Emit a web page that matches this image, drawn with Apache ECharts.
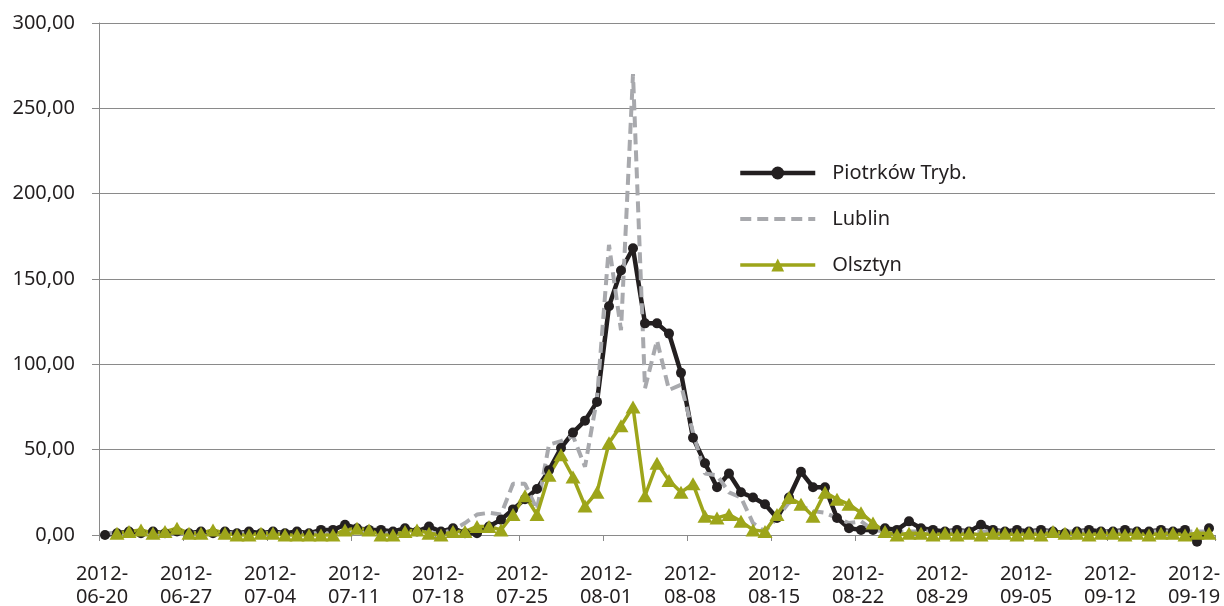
<!DOCTYPE html>
<html>
<head>
<meta charset="utf-8">
<script src="https://cdn.jsdelivr.net/npm/echarts@6/dist/echarts.min.js"></script>
<style>
  html, body { margin: 0; padding: 0; background: #fff; }
  #chart_pm_graph { width: 1224px; height: 606px; }
</style>
</head>
<body>
<div id="chart_pm_graph"></div>
<script>
// daily dates 2012-06-20 .. 2012-09-20
const startDay = "2012-06-20";
const dayCount = 93;
const dates = [];
for (let i = 0; i < dayCount; i++) {
  const d = new Date(startDay + "T00:00:00Z");
  d.setUTCDate(d.getUTCDate() + i);
  dates.push(d.toISOString().slice(0, 10));
}

const seriesNames = ["Piotrków Tryb.", "Lublin", "Olsztyn"];

const piotrkowValues = [
  0, 1, 2, 1, 2, 1, 2, 1, 2, 1,
  2, 1, 2, 1, 2, 1, 2, 1, 3, 3,
  6, 4, 3, 3, 2, 4, 2, 5, 2, 4,
  1, 1, 5, 9, 15, 21, 27, 38, 51, 60,
  67, 78, 134, 155, 168, 124, 124, 118, 95, 57,
  42, 28, 36, 25, 22, 18, 10, 22, 37, 28,
  28, 10, 4, 3, 3, 4, 3, 8, 4, 3,
  2, 3, 2, 6, 3, 2, 3, 2, 3, 2,
  1, 2, 3, 2, 2, 3, 2, 2, 3, 2,
  3, -4, 4
];
const lublinValues = [
  1, 1, 1, 1, 1, 1, 1, 1, 1, 1,
  1, 1, 1, 1, 1, 1, 1, 1, 1, 1,
  1, 1, 1, 1, 1, 1, 1, 1, 1, 3,
  7, 12, 13, 12, 30, 30, 15, 53, 55, 58,
  40, 80, 170, 120, 270, 86, 114, 85, 88, 60,
  36, 35, 25, 22, 7, 2, 10, 19, 17, 14,
  13, 10, 7, 8, 3, 2, 2, 2, 2, 2,
  2, 2, 2, 2, 2, 2, 2, 2, 2, 2,
  2, 2, 2, 2, 2, 2, 2, 2, 2, 2,
  2, 2, 2
];
const olsztynValues = [
  null, 1, 2, 3, 1, 2, 4, 1, 1, 3,
  1, 0, 0, 1, 1, 0, 0, 0, 0, 0,
  3, 4, 3, 0, 0, 2, 3, 1, 0, 2,
  2, 5, 5, 3, 12, 23, 12, 35, 47, 34,
  17, 25, 54, 64, 75, 23, 42, 32, 25, 30,
  11, 10, 12, 8, 3, 2, 12, 22, 18, 11,
  25, 21, 18, 13, 7, 2, 0, 1, 1, 0,
  1, 0, 1, 0, 1, 1, 0, 1, 0, 2,
  1, 1, 0, 1, 1, 0, 1, 0, 1, 1,
  0, 1, 1
];

const yTicks = { min: 0, max: 300, step: 50 };

const textColor = "#231f20";
const axisGray = "#8a8a8a";
const font = "Noto Sans";

const chart = echarts.init(document.getElementById("chart_pm_graph"));
const option = {
  backgroundColor: "#ffffff",
  animation: false,
  grid: { left: 99, right: 9, top: 23, bottom: 71, outerBoundsMode: "none", containLabel: false },
  legend: {
    orient: "vertical",
    left: 733,
    top: 158,
    itemWidth: 75,
    itemHeight: 16,
    itemGap: 26,
    textStyle: { fontFamily: font, fontSize: 20, color: textColor, padding: [0, 0, 0, 12] },
    data: [
      { name: seriesNames[0], lineStyle: { width: 4.5 } },
      { name: seriesNames[1], itemStyle: { opacity: 0 }, lineStyle: { width: 4 } },
      { name: seriesNames[2], lineStyle: { width: 3.5 } },
    ],
  },
  xAxis: {
    type: "category",
    data: dates,
    boundaryGap: true,
    axisLine: { lineStyle: { color: axisGray, width: 1 } },
    axisTick: { show: true, interval: 6, length: 6, lineStyle: { color: axisGray } },
    axisLabel: {
      interval: 6,
      margin: 28,
      fontFamily: font,
      fontSize: 20,
      lineHeight: 23,
      color: textColor,
      padding: [0, 6, 0, 0],
      formatter: (v) => v.slice(0, 5) + "\n" + v.slice(5),
    },
    splitLine: { show: false },
  },
  yAxis: {
    type: "value",
    min: yTicks.min,
    max: yTicks.max,
    interval: yTicks.step,
    axisLine: { show: true, lineStyle: { color: axisGray, width: 1 } },
    axisTick: { show: true, length: 7, lineStyle: { color: axisGray } },
    axisLabel: {
      margin: 24,
      fontFamily: font,
      fontSize: 20,
      color: textColor,
      formatter: (v) => v.toFixed(2).replace(".", ","),
    },
    splitLine: { lineStyle: { color: axisGray, width: 1 } },
  },
  series: [
    {
      name: seriesNames[0],
      type: "line",
      data: piotrkowValues,
      clip: false,
      symbol: "circle",
      symbolSize: 10,
      showAllSymbol: true,
      itemStyle: { color: "#231f20" },
      lineStyle: { color: "#231f20", width: 4.5 },
    },
    {
      name: seriesNames[1],
      type: "line",
      data: lublinValues,
      symbol: "none",
      itemStyle: { color: "#a8a9ad" },
      lineStyle: { color: "#a8a9ad", width: 4, type: [11, 6] },
    },
    {
      name: seriesNames[2],
      type: "line",
      data: olsztynValues,
      clip: false,
      symbol: "triangle",
      symbolSize: [15, 13],
      showAllSymbol: true,
      itemStyle: { color: "#9da51a" },
      lineStyle: { color: "#9da51a", width: 3.5 },
    },
  ],
};
chart.setOption(option);
</script>
</body>
</html>
